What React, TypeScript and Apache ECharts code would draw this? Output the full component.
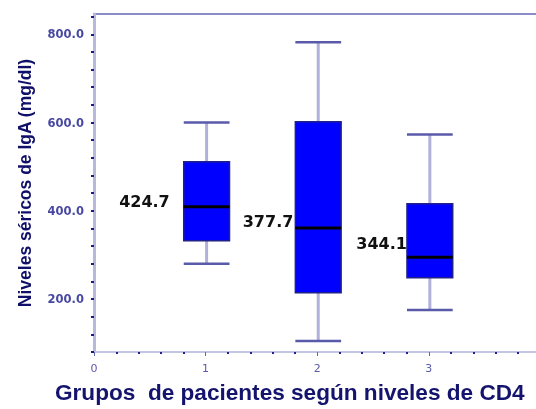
import React, { useEffect, useRef } from "react";
import * as echarts from "echarts";

const groups = [1, 2, 3];
const whiskerLow = [280, 105, 175];
const q1 = [332, 214, 248];
const median = [409, 361, 295];
const q3 = [511, 602, 416];
const whiskerHigh = [600, 782, 573];
const means = [424.7, 377.7, 344.1];

const xTickLabels = [0, 1, 2, 3];
const yTickLabels = [200, 400, 600, 800];
const yTicks = [80, 120, 160, 200, 240, 280, 320, 360, 400, 440, 480, 520, 560, 600, 640, 680, 720, 760, 800, 840];

const xTitle = "Grupos  de pacientes según niveles de CD4";
const yTitle = "Niveles séricos de IgA (mg/dl)";

// label placement tweaks (style only)
const labelGap = [14, 2, 0];
const labelDy = [2, 1, 8];

export default function App() {
  const ref = useRef<HTMLDivElement>(null);
  useEffect(() => {
    if (!ref.current) return;
    const chart = echarts.init(ref.current, null, { renderer: "svg" });
    const data = groups.map((g, i) => [g, whiskerLow[i], q1[i], median[i], q3[i], whiskerHigh[i], means[i]]);
    const option: any = {
      animation: false,
      grid: {
        left: 94,
        right: 0,
        top: 14,
        bottom: 57,
        show: false,
      },
      xAxis: {
        type: "value",
        min: 0,
        max: 3.96,
        interval: 1,
        axisLine: { show: true, onZero: false, lineStyle: { color: "#c4c4e4", width: 2 } },
        axisTick: { show: true, length: 4, lineStyle: { color: "#6a6ab0", width: 1 } },
        minorTick: { show: true, splitNumber: 5, length: 2, lineStyle: { color: "#20208a", width: 2 } },
        splitLine: { show: false },
        minorSplitLine: { show: false },
        axisLabel: {
          customValues: xTickLabels,
          margin: 11,
          color: "#5a5aa8",
          fontSize: 11,
          fontFamily: "DejaVu Sans",
          formatter: (v: number) => String(v),
        },
      },
      yAxis: {
        type: "value",
        min: 80,
        max: 846,
        axisLine: { show: true, lineStyle: { color: "#b8b8dc", width: 3 } },
        axisTick: { show: true, customValues: yTicks, length: 3, lineStyle: { color: "#1a1a80", width: 2 } },
        splitLine: { show: false },
        axisLabel: {
          customValues: yTickLabels,
          margin: 10,
          color: "#4848a2",
          fontSize: 11.5,
          fontWeight: "bold",
          fontFamily: "DejaVu Sans",
          formatter: (v: number) => v.toFixed(1),
        },
      },
      series: [
        {
          type: "custom",
          data,
          encode: { x: 0, y: [1, 2, 3, 4, 5] },
          clip: false,
          renderItem: (params: any, api: any) => {
            const i = params.dataIndex;
            const x = api.value(0);
            const lo = api.coord([x, api.value(1)]);
            const b1 = api.coord([x, api.value(2)]);
            const md = api.coord([x, api.value(3)]);
            const b3 = api.coord([x, api.value(4)]);
            const hi = api.coord([x, api.value(5)]);
            const mn = api.coord([x, api.value(6)]);
            const half = api.size([0.205, 0])[0];
            const cx = lo[0] + 1;
            const whisk = { stroke: "#b0b0da", lineWidth: 3 };
            return {
              type: "group",
              children: [
                { type: "line", shape: { x1: cx, y1: hi[1], x2: cx, y2: b3[1] }, style: whisk },
                { type: "line", shape: { x1: cx, y1: b1[1], x2: cx, y2: lo[1] }, style: whisk },
                { type: "line", shape: { x1: cx - half, y1: hi[1], x2: cx + half, y2: hi[1] }, style: { stroke: "#5a5aaa", lineWidth: 2.5 } },
                { type: "line", shape: { x1: cx - half, y1: lo[1], x2: cx + half, y2: lo[1] }, style: { stroke: "#5a5aaa", lineWidth: 2.5 } },
                {
                  type: "rect",
                  shape: { x: cx - half, y: b3[1], width: half * 2, height: b1[1] - b3[1] },
                  style: { fill: "#0000ff", stroke: "#20208a", lineWidth: 1.5 },
                },
                { type: "line", shape: { x1: cx - half, y1: md[1], x2: cx + half, y2: md[1] }, style: { stroke: "#000000", lineWidth: 3 } },
                {
                  type: "text",
                  x: cx - half - labelGap[i],
                  y: mn[1] + labelDy[i],
                  style: {
                    text: api.value(6).toFixed(1),
                    align: "right",
                    verticalAlign: "middle",
                    fontSize: 16,
                    fontWeight: "bold",
                    fontFamily: "DejaVu Sans",
                    fill: "#111111",
                  },
                },
              ],
            };
          },
        },
      ],
      graphic: [
        {
          type: "line",
          shape: { x1: 93, y1: 14, x2: 536, y2: 14 },
          style: { stroke: "#8c8cc8", lineWidth: 2 },
        },
        {
          type: "text",
          left: 55,
          top: 381,
          style: {
            text: xTitle,
            fontSize: 22.6,
            fontWeight: "bold",
            fontFamily: "Liberation Sans",
            fill: "#14146e",
          },
        },
        {
          type: "text",
          x: 25,
          y: 183,
          rotation: Math.PI / 2,
          style: {
            text: yTitle,
            align: "center",
            verticalAlign: "middle",
            fontSize: 17.5,
            fontWeight: "bold",
            fontFamily: "Liberation Sans",
            fill: "#10106a",
          },
        },
      ],
    };
    chart.setOption(option);
    return () => chart.dispose();
  }, []);
  return <div ref={ref} style={{ position: "fixed", left: 0, top: 0, width: 536, height: 409 }} />;
}
